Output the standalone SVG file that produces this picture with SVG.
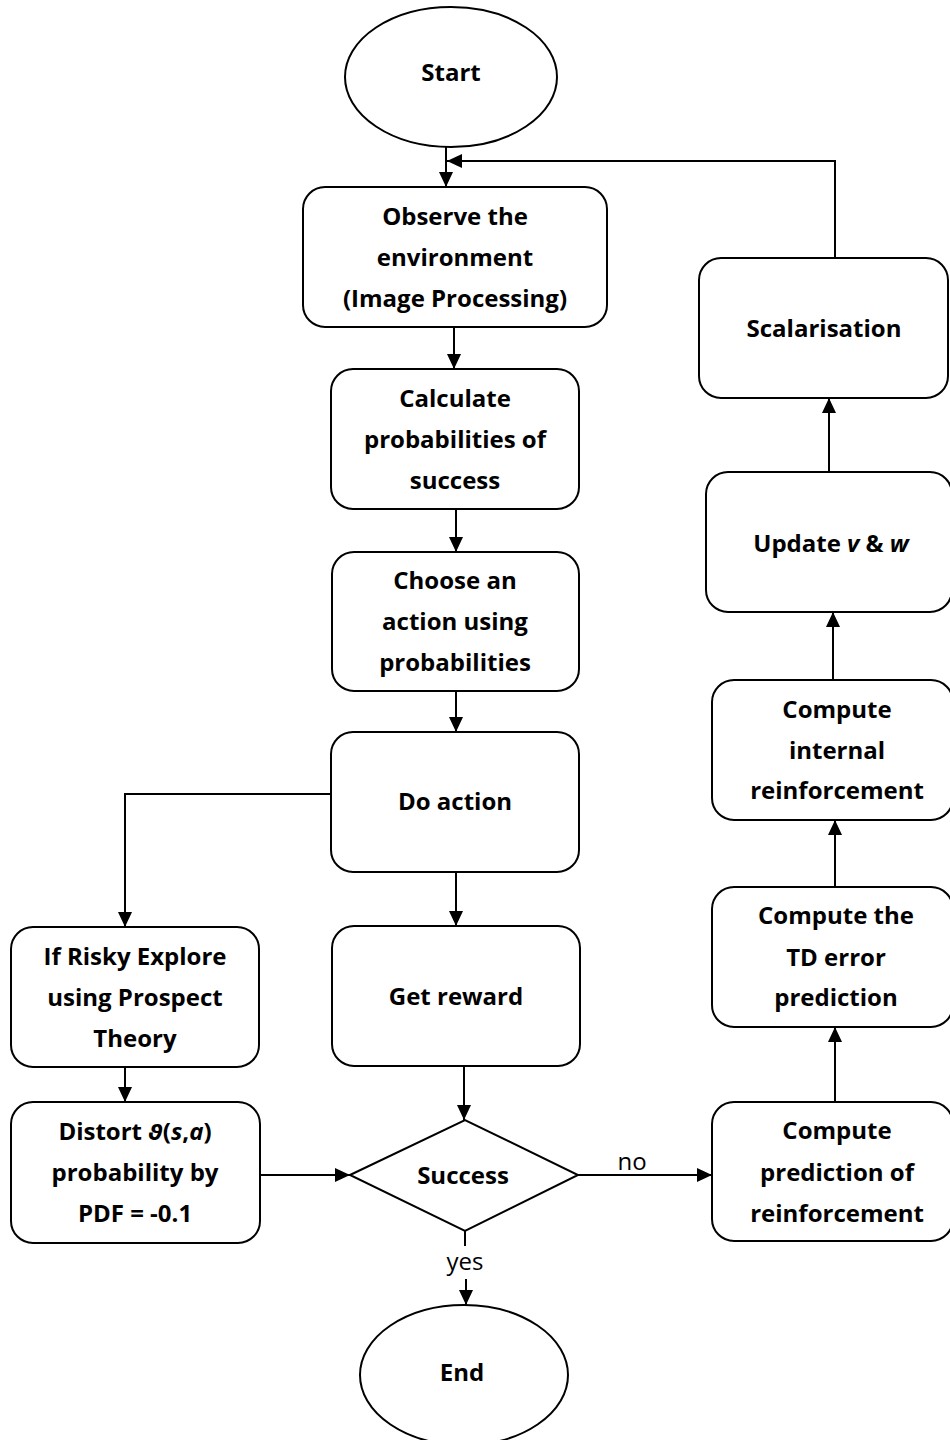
<svg xmlns="http://www.w3.org/2000/svg" width="950" height="1440" viewBox="0 0 950 1440">
  <style>
    .shape { fill: #fff; stroke: #000; stroke-width: 2; }
    .lbl { font-family: "Open Sans", "Liberation Sans", sans-serif; font-weight: bold; font-size: 24px; text-anchor: middle; fill: #000; }
    .edge-lbl { font-family: "Open Sans", "Liberation Sans", sans-serif; font-size: 24px; text-anchor: middle; fill: #000; stroke: none; }
    .wire { fill: none; stroke: #000; stroke-width: 2; }
  </style>
  <defs>
    <marker id="arrow" markerUnits="userSpaceOnUse" markerWidth="16" markerHeight="14" refX="15" refY="7" orient="auto">
      <path d="M0,0 L15,7 L0,14 Z" fill="#000"/>
    </marker>
  </defs>
  <rect width="950" height="1440" fill="#fff"/>

  <!-- connectors -->
  <g id="connectors">
    <g class="wire">
      <line x1="446" y1="147" x2="446" y2="187" marker-end="url(#arrow)"/>
      <polyline points="835,258 835,161 447,161" marker-end="url(#arrow)"/>
      <line x1="454" y1="327" x2="454" y2="369" marker-end="url(#arrow)"/>
      <line x1="456" y1="509" x2="456" y2="552" marker-end="url(#arrow)"/>
      <line x1="456" y1="691" x2="456" y2="732" marker-end="url(#arrow)"/>
      <line x1="456" y1="872" x2="456" y2="926" marker-end="url(#arrow)"/>
      <polyline points="331,794 125,794 125,927" marker-end="url(#arrow)"/>
      <line x1="125" y1="1067" x2="125" y2="1102" marker-end="url(#arrow)"/>
      <line x1="260" y1="1175" x2="350" y2="1175" marker-end="url(#arrow)"/>
      <line x1="464" y1="1066" x2="464" y2="1120" marker-end="url(#arrow)"/>
      <line x1="578" y1="1175" x2="712" y2="1175" marker-end="url(#arrow)"/>
      <line x1="465" y1="1231" x2="465" y2="1246"/>
      <line x1="466" y1="1279" x2="466" y2="1305" marker-end="url(#arrow)"/>
      <line x1="829" y1="472" x2="829" y2="398" marker-end="url(#arrow)"/>
      <line x1="833" y1="680" x2="833" y2="612" marker-end="url(#arrow)"/>
      <line x1="835" y1="887" x2="835" y2="820" marker-end="url(#arrow)"/>
      <line x1="835" y1="1102" x2="835" y2="1027" marker-end="url(#arrow)"/>
    </g>
    <text class="edge-lbl" x="632" y="1170">no</text>
    <text class="edge-lbl" x="465" y="1270">yes</text>
  </g>

  <g id="start">
    <ellipse class="shape" cx="451" cy="77" rx="106" ry="70"/>
    <text class="lbl" x="451" y="81">Start</text>
  </g>

  <g id="observe">
    <rect class="shape" x="303" y="187" width="304" height="140" rx="22"/>
    <text class="lbl" x="455" y="225">Observe the</text>
    <text class="lbl" x="455" y="266">environment</text>
    <text class="lbl" x="455" y="307">(Image Processing)</text>
  </g>

  <g id="calculate">
    <rect class="shape" x="331" y="369" width="248" height="140" rx="22"/>
    <text class="lbl" x="455" y="407">Calculate</text>
    <text class="lbl" x="455" y="448">probabilities of</text>
    <text class="lbl" x="455" y="489">success</text>
  </g>

  <g id="choose">
    <rect class="shape" x="332" y="552" width="247" height="139" rx="22"/>
    <text class="lbl" x="455" y="589">Choose an</text>
    <text class="lbl" x="455" y="630">action using</text>
    <text class="lbl" x="455" y="671">probabilities</text>
  </g>

  <g id="do-action">
    <rect class="shape" x="331" y="732" width="248" height="140" rx="22"/>
    <text class="lbl" x="455" y="810">Do action</text>
  </g>

  <g id="get-reward">
    <rect class="shape" x="332" y="926" width="248" height="140" rx="22"/>
    <text class="lbl" x="456" y="1005">Get reward</text>
  </g>

  <g id="risky-explore">
    <rect class="shape" x="11" y="927" width="248" height="140" rx="22"/>
    <text class="lbl" x="135" y="965">If Risky Explore</text>
    <text class="lbl" x="135" y="1006">using Prospect</text>
    <text class="lbl" x="135" y="1047">Theory</text>
  </g>

  <g id="distort">
    <rect class="shape" x="11" y="1102" width="249" height="141" rx="22"/>
    <text class="lbl" x="135" y="1140">Distort <tspan font-style="italic" font-family="DejaVu Sans, sans-serif" font-size="22">ϑ</tspan>(<tspan font-style="italic">s</tspan>,<tspan font-style="italic">a</tspan>)</text>
    <text class="lbl" x="135" y="1181">probability by</text>
    <text class="lbl" x="135" y="1222">PDF = -0.1</text>
  </g>

  <g id="success">
    <polygon class="shape" points="350,1175 465,1120 578,1175 465,1231"/>
    <text class="lbl" x="463" y="1184">Success</text>
  </g>

  <g id="end">
    <ellipse class="shape" cx="464" cy="1375" rx="104" ry="70"/>
    <text class="lbl" x="462" y="1381">End</text>
  </g>

  <g id="scalarisation">
    <rect class="shape" x="699" y="258" width="249" height="140" rx="22"/>
    <text class="lbl" x="824" y="337">Scalarisation</text>
  </g>

  <g id="update">
    <rect class="shape" x="706" y="472" width="246" height="140" rx="22"/>
    <text class="lbl" x="831" y="552">Update <tspan font-style="italic">v</tspan> &amp; <tspan font-style="italic">w</tspan></text>
  </g>

  <g id="internal-reinforcement">
    <rect class="shape" x="712" y="680" width="241" height="140" rx="22"/>
    <text class="lbl" x="837" y="718">Compute</text>
    <text class="lbl" x="837" y="759">internal</text>
    <text class="lbl" x="837" y="799">reinforcement</text>
  </g>

  <g id="td-error">
    <rect class="shape" x="712" y="887" width="241" height="140" rx="22"/>
    <text class="lbl" x="836" y="924">Compute the</text>
    <text class="lbl" x="836" y="966">TD error</text>
    <text class="lbl" x="836" y="1006">prediction</text>
  </g>

  <g id="prediction">
    <rect class="shape" x="712" y="1102" width="241" height="139" rx="22"/>
    <text class="lbl" x="837" y="1139">Compute</text>
    <text class="lbl" x="837" y="1181">prediction of</text>
    <text class="lbl" x="837" y="1222">reinforcement</text>
  </g>
</svg>
